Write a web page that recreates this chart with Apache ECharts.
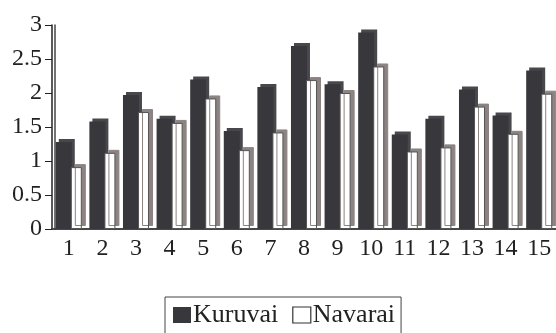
<!DOCTYPE html>
<html>
<head>
<meta charset="UTF-8">
<title>Kuruvai / Navarai</title>
<script type="text/javascript" src="https://cdn.jsdelivr.net/npm/echarts@6/dist/echarts.min.js"></script>
<style>
  *{margin:0;padding:0}
  html,body{width:100%;height:100%;background:#fff}
  #main{width:556px;height:333px}
</style>
</head>
<body>
<div id="main"></div>
<script type="text/javascript">
// data
var categories = ['1','2','3','4','5','6','7','8','9','10','11','12','13','14','15'];
var kuruvai = [1.28, 1.58, 1.97, 1.62, 2.2, 1.44, 2.09, 2.69, 2.13, 2.89, 1.39, 1.62, 2.05, 1.67, 2.33];
var navarai = [0.91, 1.12, 1.72, 1.56, 1.92, 1.16, 1.42, 2.19, 2.0, 2.39, 1.14, 1.2, 1.8, 1.4, 1.99];

var font = '"Liberation Serif", "DejaVu Serif", serif';
var dark = '#38373c';

var option = {
  animation: false,
  textStyle: {fontFamily: font},
  grid: {left: 52, top: 25, bottom: 104, width: 512},
  legend: {
    top: 297,
    left: 165,
    itemWidth: 18,
    itemHeight: 16,
    itemGap: 14,
    padding: [5, 6, 10, 8],
    borderColor: '#444',
    borderWidth: 1,
    icon: 'rect',
    textStyle: {fontFamily: font, fontSize: 26, color: '#222', padding: [0, 0, 0, -3]},
    data: [
      {name: 'Kuruvai', itemStyle: {color: dark}},
      {name: 'Navarai', itemStyle: {color: '#fff', borderColor: '#333', borderWidth: 1.2}}
    ]
  },
  xAxis: [{
    type: 'category',
    data: categories,
    axisLine: {lineStyle: {color: '#222', width: 1.5}},
    axisTick: {length: 4, lineStyle: {color: '#222'}},
    axisLabel: {fontFamily: font, fontSize: 24, color: '#222', margin: 8}
  }, {
    type: 'category',
    position: 'top',
    data: categories,
    axisLine: {show: true, lineStyle: {color: '#444', width: 1.5}},
    axisTick: {show: false},
    axisLabel: {show: false}
  }],
  yAxis: [{
    type: 'value',
    min: 0,
    max: 3,
    interval: 0.5,
    axisLine: {show: true, lineStyle: {color: '#222', width: 1.5}},
    axisTick: {show: true, length: 7, lineStyle: {color: '#222'}},
    axisLabel: {fontFamily: font, fontSize: 24, color: '#222', margin: 10},
    splitLine: {show: false}
  }, {
    type: 'value',
    position: 'left',
    offset: -3,
    min: 0,
    max: 3,
    axisLine: {show: true, lineStyle: {color: '#444', width: 1.5}},
    axisTick: {show: false},
    axisLabel: {show: false},
    splitLine: {show: false}
  }],
  series: [{
    name: 'Kuruvai',
    type: 'bar',
    data: kuruvai,
    barWidth: 16,
    barGap: '-6%',
    itemStyle: {
      color: dark,
      shadowColor: '#48474c',
      shadowBlur: 0,
      shadowOffsetX: 3,
      shadowOffsetY: -3
    }
  }, {
    name: 'Navarai',
    type: 'bar',
    data: navarai,
    barWidth: 11,
    itemStyle: {
      color: '#fff',
      borderColor: '#555',
      borderWidth: 1,
      shadowColor: '#8c8383',
      shadowBlur: 0,
      shadowOffsetX: 4,
      shadowOffsetY: -3
    }
  }]
};

var myChart = echarts.init(document.getElementById('main'));
myChart.setOption(option);
</script>
</body>
</html>
